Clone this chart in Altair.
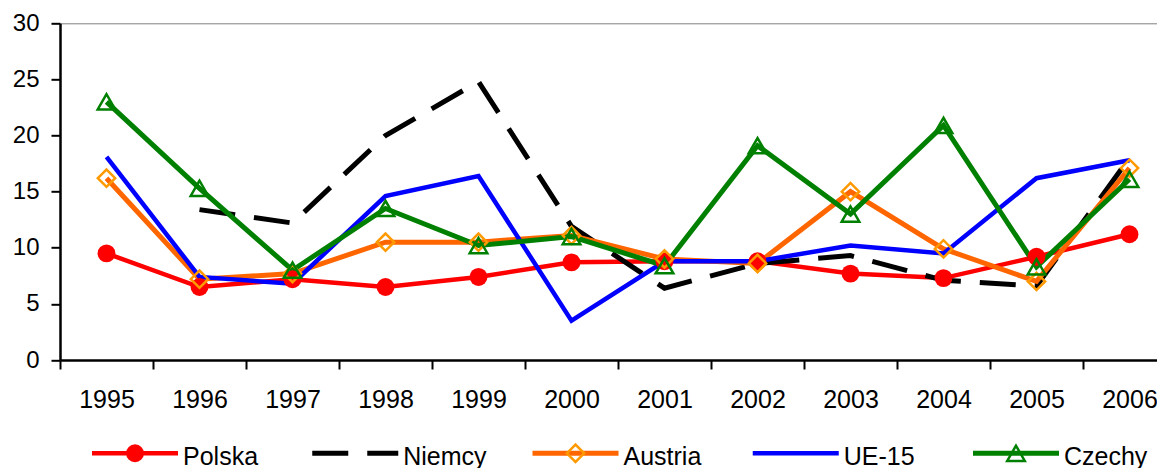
import altair as alt
import pandas as pd

years = ["1995", "1996", "1997", "1998", "1999", "2000",
         "2001", "2002", "2003", "2004", "2005", "2006"]
series = ["Polska", "Niemcy", "Austria", "UE-15", "Czechy"]

polska = [9.5, 6.5, 7.2, 6.5, 7.4, 8.7, 8.8, 8.8, 7.7, 7.3, 9.2, 11.2]
niemcy = [None, 13.4, 12.2, 20.0, 24.8, 11.9, 6.4, 8.6, 9.3, 7.1, 6.6, 18.0]
austria = [16.2, 7.2, 7.7, 10.5, 10.5, 11.1, 9.0, 8.6, 15.0, 9.9, 7.0, 17.1]
ue15 = [18.1, 7.4, 6.8, 14.6, 16.4, 3.5, 8.8, 8.8, 10.2, 9.5, 16.2, 17.8]
czechy = [23.0, 15.3, 8.0, 13.5, 10.2, 11.0, 8.4, 19.1, 13.0, 20.9, 8.3, 16.1]

y_ticks = [0, 5, 10, 15, 20, 25, 30]

rows = []
for s, vals in zip(series, [polska, niemcy, austria, ue15, czechy]):
    for yr, v in zip(years, vals):
        if v is not None:
            rows.append({"series": s, "year": yr, "value": v})
df = pd.DataFrame(rows)
leg_df = pd.DataFrame({"series": series})

FONT = "Liberation Sans"

line_style = {
    "Polska": dict(color="#FF0000", strokeWidth=4.5),
    "Niemcy": dict(color="#000000", strokeWidth=5, strokeDash=[36, 19]),
    "Austria": dict(color="#FF6600", strokeWidth=5),
    "UE-15": dict(color="#0000FF", strokeWidth=4.5),
    "Czechy": dict(color="#008000", strokeWidth=5),
}
marker_style = {
    "Polska": dict(shape="circle", filled=True, size=320, color="#FF0000", opacity=1),
    "Austria": dict(shape="diamond", filled=False, size=300, color="#FF9900",
                    strokeWidth=2.5, opacity=1),
    "Czechy": dict(shape="triangle-up", filled=False, size=310, color="#008000",
                   strokeWidth=2.5, opacity=1),
}

x_axis = alt.Axis(title=None, tickBand="extent", labelFont=FONT, labelFontSize=25,
                  labelColor="black", labelPadding=18, tickSize=9, tickColor="black",
                  tickWidth=2, domainColor="black", domainWidth=2.5, grid=False,
                  labelAngle=0, labelOverlap=False)
y_axis = alt.Axis(title=None, values=y_ticks, labelFont=FONT, labelFontSize=24,
                  labelColor="black", labelPadding=12, tickSize=9, tickColor="black",
                  tickWidth=2, domainColor="black", domainWidth=2.5, grid=True,
                  gridColor="#808080", gridWidth=1,
                  gridOpacity={"condition": {"test": "datum.value === 30", "value": 1},
                               "value": 0})

base = alt.Chart(df).encode(
    x=alt.X("year:O", scale=alt.Scale(type="band", domain=years, range=[0, 1116],
                                      paddingInner=0, paddingOuter=0), axis=x_axis),
    y=alt.Y("value:Q", scale=alt.Scale(domain=[0, 30], nice=False), axis=y_axis),
)

layers = []
for s in series:
    layers.append(base.transform_filter(alt.datum.series == s).mark_line(**line_style[s]))
for s in series:
    if s in marker_style:
        layers.append(base.transform_filter(alt.datum.series == s).mark_point(**marker_style[s]))
main = alt.layer(*layers)

leg_base = alt.Chart(leg_df).encode(
    x=alt.X("series:N", scale=alt.Scale(type="point", domain=series, range=[75, 956],
                                        padding=0),
            axis=None),
)
leg_layers = []
for s in series:
    leg_layers.append(
        leg_base.transform_filter(alt.datum.series == s)
        .mark_rule(xOffset=-43, x2Offset=43, **line_style[s])
        .encode(x2=alt.X2("series:N"), y=alt.value(430))
    )
for s in series:
    if s in marker_style:
        leg_layers.append(
            leg_base.transform_filter(alt.datum.series == s)
            .mark_point(**marker_style[s])
            .encode(y=alt.value(430))
        )
leg_layers.append(
    leg_base.mark_text(align="left", baseline="alphabetic", dx=48, dy=11.7, font=FONT,
                       fontSize=25, color="black")
    .encode(text="series:N", y=alt.value(430))
)
legend = alt.layer(*leg_layers)

chart = (
    alt.layer(main, legend)
    .resolve_scale(x="independent")
    .properties(width=1097, height=336.7,
                padding={"left": 52, "top": 15.3, "right": 0, "bottom": 110},
                autosize=alt.AutoSizeParams(type="none"))
    .configure_view(stroke=None)
)

chart.save("out.html", embed_options={"renderer": "svg", "actions": False})
